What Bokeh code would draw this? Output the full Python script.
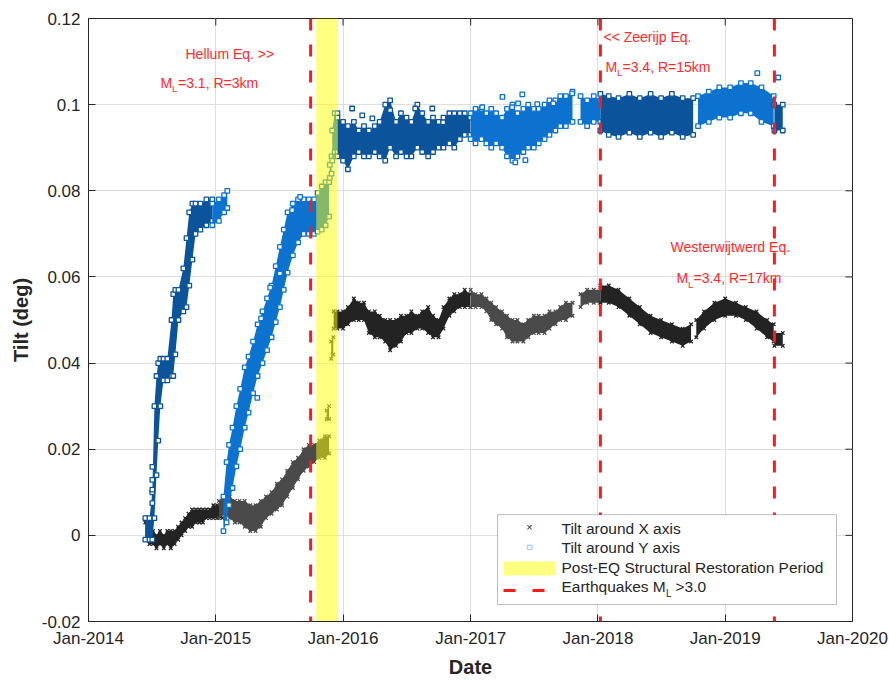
import pandas as pd
from bokeh.plotting import figure
from bokeh.models import (Range1d, FixedTicker, DatetimeTickFormatter, NumeralTickFormatter,
                          Span, BoxAnnotation, Label, ColumnDataSource)
from bokeh.embed import file_html
from bokeh.resources import INLINE

# ---------------- data ----------------
x_tick_dates = ["2014-01-01", "2015-01-01", "2016-01-01", "2017-01-01",
                "2018-01-01", "2019-01-01", "2020-01-01"]
y_ticks = [-0.02, 0.0, 0.02, 0.04, 0.06, 0.08, 0.1, 0.12]

eq_dates = ["2015-09-30", "2018-01-08", "2019-05-22"]
restoration = ["2015-10-16", "2015-12-16"]

# Tilt around X axis (deg): sample dates with lower / upper edge of the point cloud
x1_dates = ["2014-06-13", "2014-06-25", "2014-07-05", "2014-07-15", "2014-07-25", "2014-08-05",
            "2014-08-15", "2014-08-25", "2014-09-05", "2014-09-15", "2014-09-25", "2014-10-05",
            "2014-10-15", "2014-10-25", "2014-11-05", "2014-11-15", "2014-11-25", "2014-12-05",
            "2014-12-15", "2014-12-25", "2015-01-05", "2015-01-20"]
x1_lo = [-0.001, -0.002, -0.002, -0.003, -0.002, -0.003, -0.002, -0.003, -0.002, -0.001, 0.000,
         0.001, 0.002, 0.002, 0.003, 0.003, 0.003, 0.004, 0.004, 0.004, 0.004, 0.004]
x1_hi = [0.003, 0.001, 0.001, 0.000, 0.001, 0.000, 0.001, 0.001, 0.001, 0.002, 0.003,
         0.004, 0.005, 0.006, 0.006, 0.006, 0.006, 0.006, 0.006, 0.007, 0.007, 0.007]

x2_dates = ["2015-01-10", "2015-01-25", "2015-02-10", "2015-02-25", "2015-03-10", "2015-03-25",
            "2015-04-10", "2015-04-25", "2015-05-10", "2015-05-25", "2015-06-10", "2015-06-25",
            "2015-07-10", "2015-07-25", "2015-08-10", "2015-08-25", "2015-09-10", "2015-09-25",
            "2015-10-10", "2015-10-25", "2015-11-10", "2015-11-22"]
x2_lo = [0.004, 0.005, 0.004, 0.003, 0.003, 0.002, 0.001, 0.001, 0.002, 0.004, 0.005,
         0.006, 0.007, 0.009, 0.011, 0.013, 0.015, 0.016, 0.017, 0.018, 0.018, 0.019]
x2_hi = [0.008, 0.009, 0.009, 0.008, 0.008, 0.008, 0.007, 0.007, 0.008, 0.009, 0.010,
         0.012, 0.013, 0.015, 0.017, 0.018, 0.020, 0.021, 0.021, 0.022, 0.023, 0.023]

xc1_dates = ["2015-11-15", "2015-11-22"]
xc1_lo = [0.027, 0.027]
xc1_hi = [0.029, 0.030]
xc2_dates = ["2015-11-28", "2015-12-04"]
xc2_lo = [0.041, 0.042]
xc2_hi = [0.045, 0.046]

x3_dates = ["2015-12-05", "2015-12-16", "2016-01-01", "2016-01-15", "2016-02-01", "2016-02-15",
            "2016-03-01", "2016-03-15", "2016-04-01", "2016-04-15", "2016-05-01", "2016-05-15",
            "2016-06-01", "2016-06-15", "2016-07-01", "2016-07-15", "2016-08-01", "2016-08-15",
            "2016-09-01", "2016-09-15", "2016-10-01", "2016-10-15", "2016-11-01", "2016-11-15",
            "2016-12-01", "2016-12-15", "2016-12-31"]
x3_lo = [0.048, 0.048, 0.048, 0.049, 0.050, 0.050, 0.050, 0.047, 0.046, 0.046, 0.045, 0.043,
         0.044, 0.045, 0.047, 0.047, 0.048, 0.048, 0.047, 0.046, 0.046, 0.048, 0.051, 0.052,
         0.053, 0.053, 0.053]
x3_hi = [0.052, 0.052, 0.052, 0.053, 0.055, 0.054, 0.054, 0.052, 0.052, 0.051, 0.050, 0.050,
         0.050, 0.051, 0.051, 0.052, 0.051, 0.052, 0.053, 0.051, 0.050, 0.053, 0.055, 0.056,
         0.056, 0.057, 0.056]

x4_dates = ["2017-01-01", "2017-01-15", "2017-02-01", "2017-02-15", "2017-03-01", "2017-03-15",
            "2017-04-01", "2017-04-15", "2017-05-01", "2017-05-15", "2017-06-01", "2017-06-15",
            "2017-07-01", "2017-07-15", "2017-08-01", "2017-08-15", "2017-09-01", "2017-09-15",
            "2017-10-01", "2017-10-20"]
x4_lo = [0.053, 0.053, 0.053, 0.052, 0.050, 0.049, 0.048, 0.046, 0.045, 0.045, 0.045, 0.046,
         0.047, 0.047, 0.047, 0.048, 0.049, 0.050, 0.050, 0.051]
x4_hi = [0.057, 0.056, 0.056, 0.055, 0.054, 0.053, 0.052, 0.051, 0.050, 0.050, 0.049, 0.050,
         0.051, 0.051, 0.051, 0.052, 0.052, 0.053, 0.054, 0.054]

x5_dates = ["2017-11-12", "2017-12-01", "2017-12-20", "2018-01-08"]
x5_lo = [0.053, 0.054, 0.054, 0.054]
x5_hi = [0.056, 0.057, 0.057, 0.057]

x6_dates = ["2018-01-08", "2018-02-01", "2018-03-01", "2018-04-01", "2018-05-01", "2018-06-01",
            "2018-07-01", "2018-08-01", "2018-09-01", "2018-09-25"]
x6_lo = [0.054, 0.054, 0.053, 0.051, 0.049, 0.047, 0.046, 0.045, 0.044, 0.045]
x6_hi = [0.058, 0.058, 0.057, 0.055, 0.053, 0.051, 0.050, 0.049, 0.048, 0.049]

x7_dates = ["2018-10-10", "2018-11-01", "2018-12-01", "2019-01-01", "2019-02-01", "2019-03-01",
            "2019-04-01", "2019-05-01", "2019-05-20"]
x7_lo = [0.046, 0.048, 0.050, 0.051, 0.051, 0.050, 0.048, 0.046, 0.045]
x7_hi = [0.050, 0.052, 0.054, 0.055, 0.054, 0.053, 0.052, 0.050, 0.049]

x8_dates = ["2019-05-22", "2019-06-15"]
x8_lo = [0.044, 0.044]
x8_hi = [0.047, 0.047]

# Tilt around Y axis (deg)
y1_dates = ["2014-06-13", "2014-06-25", "2014-07-03", "2014-07-09", "2014-07-15", "2014-07-20",
            "2014-07-26", "2014-08-04", "2014-08-15", "2014-08-27", "2014-09-01", "2014-09-07",
            "2014-09-16", "2014-09-30", "2014-10-09", "2014-10-17", "2014-10-26", "2014-11-04",
            "2014-11-18", "2014-12-05", "2014-12-22"]
y1_lo = [-0.001, -0.001, -0.001, 0.004, 0.014, 0.022, 0.030, 0.036, 0.036, 0.037, 0.037, 0.042,
         0.050, 0.052, 0.053, 0.058, 0.064, 0.070, 0.071, 0.072, 0.073]
y1_hi = [0.004, 0.004, 0.010, 0.030, 0.037, 0.040, 0.041, 0.041, 0.041, 0.050, 0.056, 0.057,
         0.057, 0.062, 0.069, 0.075, 0.077, 0.077, 0.077, 0.078, 0.078]

y1b_dates = ["2014-12-22", "2015-01-10", "2015-01-25", "2015-02-03"]
y1b_lo = [0.072, 0.073, 0.075, 0.076]
y1b_hi = [0.077, 0.078, 0.079, 0.080]

y2_dates = ["2015-01-23", "2015-02-01", "2015-02-08", "2015-02-18", "2015-03-01", "2015-03-12",
            "2015-03-25", "2015-04-05", "2015-04-18", "2015-05-01", "2015-05-15", "2015-05-28",
            "2015-06-10", "2015-06-22", "2015-07-04", "2015-07-15", "2015-07-26", "2015-08-10",
            "2015-08-25", "2015-09-10", "2015-09-25", "2015-10-10", "2015-10-20", "2015-11-01",
            "2015-11-12", "2015-11-22"]
y2_lo = [0.001, 0.003, 0.007, 0.011, 0.016, 0.020, 0.025, 0.0285, 0.033, 0.037, 0.040, 0.043,
         0.046, 0.0495, 0.053, 0.057, 0.061, 0.065, 0.068, 0.070, 0.070, 0.070, 0.0705, 0.071,
         0.072, 0.074]
y2_hi = [0.009, 0.017, 0.021, 0.025, 0.030, 0.034, 0.039, 0.0415, 0.045, 0.049, 0.052, 0.055,
         0.058, 0.0625, 0.067, 0.071, 0.075, 0.077, 0.078, 0.078, 0.078, 0.078, 0.0795, 0.081,
         0.082, 0.082]

yc1_dates = ["2015-11-24", "2015-11-29"]
yc1_lo = [0.083, 0.084]
yc1_hi = [0.086, 0.088]

y2b_dates = ["2015-12-01", "2015-12-08", "2015-12-16"]
y2b_lo = [0.087, 0.089, 0.089]
y2b_hi = [0.094, 0.098, 0.098]

y3_dates = ["2015-12-16", "2016-01-01", "2016-01-15", "2016-02-01", "2016-02-15", "2016-03-01",
            "2016-03-15", "2016-04-01", "2016-04-15", "2016-05-01", "2016-05-15", "2016-06-01",
            "2016-06-15", "2016-07-01", "2016-07-15", "2016-08-01", "2016-08-15", "2016-09-01",
            "2016-09-15", "2016-10-01", "2016-10-15", "2016-11-01", "2016-11-15", "2016-12-01",
            "2016-12-15", "2016-12-31"]
y3_lo = [0.088, 0.087, 0.085, 0.088, 0.089, 0.088, 0.088, 0.089, 0.088, 0.087, 0.090, 0.088,
         0.089, 0.088, 0.088, 0.090, 0.089, 0.088, 0.089, 0.090, 0.090, 0.091, 0.090, 0.092,
         0.093, 0.093]
y3_hi = [0.097, 0.096, 0.095, 0.096, 0.094, 0.095, 0.094, 0.095, 0.096, 0.100, 0.101, 0.096,
         0.098, 0.097, 0.096, 0.100, 0.098, 0.096, 0.097, 0.096, 0.097, 0.098, 0.098, 0.098,
         0.098, 0.097]

y4_dates = ["2017-01-01", "2017-01-15", "2017-02-01", "2017-02-15", "2017-03-01", "2017-03-15",
            "2017-04-01", "2017-04-15", "2017-05-01", "2017-05-15", "2017-06-01", "2017-06-15",
            "2017-07-01", "2017-07-15", "2017-08-01", "2017-08-15", "2017-09-01", "2017-09-15",
            "2017-10-01", "2017-10-20"]
y4_lo = [0.092, 0.091, 0.092, 0.091, 0.090, 0.091, 0.090, 0.088, 0.087, 0.088, 0.089, 0.090,
         0.090, 0.091, 0.092, 0.093, 0.094, 0.095, 0.095, 0.096]
y4_hi = [0.098, 0.099, 0.099, 0.098, 0.099, 0.098, 0.097, 0.099, 0.100, 0.098, 0.099, 0.100,
         0.099, 0.099, 0.100, 0.101, 0.101, 0.102, 0.102, 0.103]

y5_dates = ["2017-11-12", "2017-12-01", "2017-12-20", "2018-01-08"]
y5_lo = [0.096, 0.095, 0.096, 0.096]
y5_hi = [0.102, 0.101, 0.102, 0.101]

y6_dates = ["2018-01-08", "2018-02-01", "2018-03-01", "2018-04-01", "2018-05-01", "2018-06-01",
            "2018-07-01", "2018-08-01", "2018-09-01", "2018-10-01"]
y6_lo = [0.094, 0.093, 0.0925, 0.0935, 0.0925, 0.0935, 0.0925, 0.0935, 0.0925, 0.093]
y6_hi = [0.1025, 0.102, 0.1015, 0.1025, 0.1015, 0.1025, 0.1015, 0.1025, 0.1015, 0.1015]

y7_dates = ["2018-10-15", "2018-11-15", "2018-12-15", "2019-01-15", "2019-02-15", "2019-03-15",
            "2019-04-15", "2019-05-20"]
y7_lo = [0.095, 0.096, 0.097, 0.097, 0.098, 0.098, 0.096, 0.095]
y7_hi = [0.102, 0.103, 0.104, 0.104, 0.105, 0.105, 0.104, 0.102]

y8_dates = ["2019-05-22", "2019-06-15"]
y8_lo = [0.094, 0.094]
y8_hi = [0.100, 0.100]

# isolated Y points outside the dense cloud
yout_dark_dates = ["2014-07-03", "2014-07-03", "2014-07-03", "2014-07-03",
                   "2016-01-27", "2016-02-25", "2016-03-25", "2016-05-15", "2016-07-26",
                   "2016-09-13", "2016-10-14"]
yout_dark_vals = [0.0159, 0.0129, 0.0106, 0.0075,
                  0.0991, 0.0975, 0.0968, 0.0987, 0.0991, 0.0991, 0.0959]
yout_bright_dates = ["2015-04-30", "2015-05-11", "2015-06-06", "2015-07-04", "2015-08-08",
                     "2015-08-31", "2017-02-03", "2017-04-02", "2017-04-30", "2017-05-17",
                     "2017-05-29", "2017-07-11", "2017-08-26", "2017-10-19", "2017-05-09",
                     "2017-06-07", "2019-04-03", "2019-06-02"]
yout_bright_vals = [0.0319, 0.0504, 0.0575, 0.0608, 0.0755, 0.0786, 0.0994, 0.1018, 0.0994,
                    0.1003, 0.1024, 0.1001, 0.1003, 0.1026, 0.0866, 0.0871, 0.1073, 0.1063]

# ---------------- styling ----------------
X_DARK, X_GRAY = "#232323", "#4a4a4a"
Y_DARK, Y_BRIGHT = "#0b549c", "#0b72cf"
AX = "#262626"
FONT = "Liberation Sans"

x_segments = [(x1_dates, x1_lo, x1_hi, X_DARK), (x2_dates, x2_lo, x2_hi, X_GRAY),
              (xc1_dates, xc1_lo, xc1_hi, X_GRAY), (xc2_dates, xc2_lo, xc2_hi, X_GRAY),
              (x3_dates, x3_lo, x3_hi, X_DARK), (x4_dates, x4_lo, x4_hi, X_GRAY),
              (x5_dates, x5_lo, x5_hi, X_GRAY), (x6_dates, x6_lo, x6_hi, X_DARK),
              (x7_dates, x7_lo, x7_hi, X_DARK), (x8_dates, x8_lo, x8_hi, X_DARK)]
y_segments = [(y1_dates, y1_lo, y1_hi, Y_DARK), (y1b_dates, y1b_lo, y1b_hi, Y_BRIGHT),
              (y2_dates, y2_lo, y2_hi, Y_BRIGHT), (yc1_dates, yc1_lo, yc1_hi, Y_BRIGHT),
              (y2b_dates, y2b_lo, y2b_hi, Y_BRIGHT), (y3_dates, y3_lo, y3_hi, Y_DARK),
              (y4_dates, y4_lo, y4_hi, Y_BRIGHT), (y5_dates, y5_lo, y5_hi, Y_BRIGHT),
              (y6_dates, y6_lo, y6_hi, Y_DARK), (y7_dates, y7_lo, y7_hi, Y_BRIGHT),
              (y8_dates, y8_lo, y8_hi, Y_DARK)]


def ms(d):
    return pd.Timestamp(d).timestamp() * 1000.0


x_start, x_end = ms(x_tick_dates[0]), ms(x_tick_dates[-1])
y_start, y_end = y_ticks[0], y_ticks[-1]
x_ticks = [ms(d) for d in x_tick_dates]

W, H = 889, 680
FL, FT, FW, FH = 88, 18, 764, 604  # plot frame inside the figure (px)


def fx(px):  # pixel -> data x (annotation placement only)
    return x_start + (px - FL) / FW * (x_end - x_start)


def fy(px):
    return y_end - (px - FT) / FH * (y_end - y_start)


p = figure(width=W, height=H, x_axis_type="datetime",
           x_range=Range1d(x_start, x_end), y_range=Range1d(y_start, y_end),
           output_backend="svg", toolbar_location=None,
           min_border_left=FL, min_border_top=FT, min_border_right=W - FL - FW,
           min_border_bottom=H - FT - FH)
p.background_fill_color = "white"
p.border_fill_color = "white"
p.outline_line_color = AX
p.outline_line_width = 1

bx = p.below[0]
ly = p.left[0]
bx.ticker = FixedTicker(ticks=x_ticks)
bx.formatter = DatetimeTickFormatter(years="%b-%Y", months="%b-%Y", days="%b-%Y", hours="%b-%Y")
ly.ticker = FixedTicker(ticks=y_ticks)
ly.formatter = NumeralTickFormatter(format="0.[00]")
bx.axis_label = "Date"
ly.axis_label = "Tilt (deg)"

for ax in (bx, ly):
    ax.axis_line_color = AX
    ax.axis_line_width = 1
    ax.major_tick_line_color = AX
    ax.major_tick_in = 7
    ax.major_tick_out = 0
    ax.minor_tick_line_color = None
    ax.major_label_text_color = AX
    ax.major_label_text_font = FONT
    ax.major_label_text_font_size = "17px"
    ax.axis_label_text_font = FONT
    ax.axis_label_text_color = AX
    ax.axis_label_text_font_style = "bold"
    ax.axis_label_text_font_size = "20px"
bx.major_label_standoff = 7
bx.axis_label_standoff = 5
ly.major_label_standoff = 8
ly.axis_label_standoff = 7

p.xgrid.ticker = FixedTicker(ticks=x_ticks)
p.ygrid.ticker = FixedTicker(ticks=y_ticks)
p.grid.grid_line_color = "#dedede"
p.grid.grid_line_width = 1

# inward ticks on the top and right edges of the box
tick_dx = 7 / FW * (x_end - x_start)
tick_dy = 7 / FH * (y_end - y_start)
p.segment(x0=x_ticks, y0=[y_end] * len(x_ticks), x1=x_ticks, y1=[y_end - tick_dy] * len(x_ticks),
          line_color=AX, line_width=1)
p.segment(x0=[x_end] * len(y_ticks), y0=y_ticks, x1=[x_end - tick_dx] * len(y_ticks), y1=y_ticks,
          line_color=AX, line_width=1)


def draw(segments, marker, size, fill):
    for dates, lo, hi, color in segments:
        src = ColumnDataSource(dict(t=pd.to_datetime(dates), lo=lo, hi=hi))
        p.varea(x="t", y1="lo", y2="hi", source=src, fill_color=color, fill_alpha=1)
        for col in ("lo", "hi"):
            p.scatter(x="t", y=col, source=src, marker=marker, size=size, line_color=color,
                      fill_color=fill, line_width=1.3)


draw(x_segments, "x", 5, None)
draw(y_segments, "square", 4.5, "white")
for dates, vals, color in ((yout_dark_dates, yout_dark_vals, Y_DARK),
                           (yout_bright_dates, yout_bright_vals, Y_BRIGHT)):
    p.scatter(x=pd.to_datetime(dates), y=vals, marker="square", size=4.5, line_color=color,
              fill_color="white", line_width=1.3)

# restoration period (semi-transparent yellow on top of data)
p.quad(left=[pd.Timestamp(restoration[0])], right=[pd.Timestamp(restoration[1])],
       bottom=[y_start], top=[y_end], fill_color="#ffff00", fill_alpha=0.5, line_color=None)

# earthquakes
for d in eq_dates:
    p.add_layout(Span(location=ms(d), dimension="height", line_color="#ff1a1a",
                      line_width=3, line_dash="12 14"))

RED = "#ff2a2a"


def lab(x, y, text, size="14px", color=RED, align="left"):
    p.add_layout(Label(x=x, y=y, text=text, text_font=FONT, text_font_size=size,
                       text_color=color, text_align=align, text_baseline="middle"))


# event annotations
lab(fx(185), fy(54), "Hellum Eq. >>")
lab(fx(160), fy(82.5), "M")
lab(fx(171.5), fy(88.5), "L", size="9.5px")
lab(fx(177.5), fy(82.5), "=3.1, R=3km")

lab(fx(603), fy(37), "<< Zeerijp Eq.")
lab(fx(605), fy(66.5), "M")
lab(fx(616.5), fy(72.5), "L", size="9.5px")
lab(fx(622), fy(66.5), "=3.4, R=15km")

lab(fx(670), fy(247), "Westerwijtwerd Eq.")
lab(fx(676), fy(278), "M")
lab(fx(687.5), fy(284), "L", size="9.5px")
lab(fx(693), fy(278), "=3.4, R=17km")

# legend (box + samples + texts)
LEG = "15.5px"
p.add_layout(BoxAnnotation(left=fx(497), right=fx(836), top=fy(515), bottom=fy(605),
                           fill_color="white", fill_alpha=1, line_color=AX, line_width=1))
lab(fx(529), fy(527), "\u00d7", size="11px", color=AX, align="center")
p.add_layout(BoxAnnotation(left=fx(527), right=fx(531.5), top=fy(545.5), bottom=fy(550),
                           fill_color="white", fill_alpha=1, line_color=Y_BRIGHT, line_width=1.5))
p.add_layout(BoxAnnotation(left=fx(503), right=fx(555), top=fy(562), bottom=fy(576),
                           fill_color="#ffff00", fill_alpha=0.5, line_color=None))
for a, b in ((503, 515), (532, 544)):
    p.add_layout(BoxAnnotation(left=fx(a), right=fx(b), top=fy(589.5), bottom=fy(592.5),
                               fill_color="#ff1a1a", fill_alpha=1, line_color=None))
lab(fx(561), fy(529), "Tilt around X axis", size=LEG, color=AX)
lab(fx(561), fy(548), "Tilt around Y axis", size=LEG, color=AX)
lab(fx(561), fy(568), "Post-EQ Structural Restoration Period", size=LEG, color=AX)
lab(fx(561), fy(587), "Earthquakes M", size=LEG, color=AX)
lab(fx(665.5), fy(594), "L", size="10px", color=AX)
lab(fx(675), fy(587), ">3.0", size=LEG, color=AX)

open("out.html", "w").write(file_html(p, INLINE))
